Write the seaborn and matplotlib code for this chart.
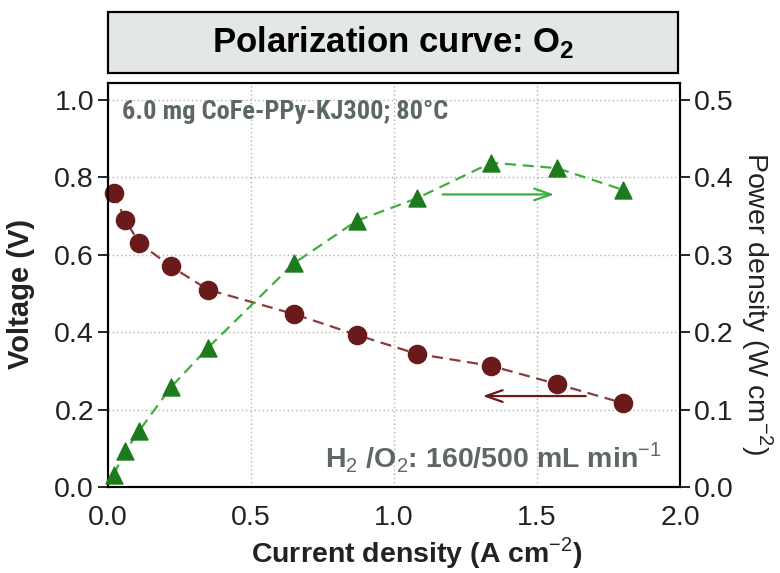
import matplotlib
matplotlib.use("Agg")
import matplotlib.pyplot as plt
import seaborn as sns
import pandas as pd
from matplotlib.patches import Rectangle
from matplotlib import font_manager as fm

current = [0.02, 0.06, 0.11, 0.22, 0.35, 0.65, 0.87, 1.08, 1.34, 1.57, 1.80]
voltage = [0.76, 0.69, 0.63, 0.57, 0.51, 0.447, 0.393, 0.344, 0.313, 0.266, 0.217]
power = [0.016, 0.046, 0.073, 0.129, 0.180, 0.289, 0.344, 0.373, 0.419, 0.412, 0.384]

x_ticks = [0.0, 0.5, 1.0, 1.5, 2.0]
v_ticks = [0.0, 0.2, 0.4, 0.6, 0.8, 1.0]
p_ticks = [0.0, 0.1, 0.2, 0.3, 0.4, 0.5]

sns.set_theme(style="white")
plt.rcParams['font.family'] = ['Liberation Sans', 'DejaVu Sans']
plt.rcParams['mathtext.fontset'] = 'custom'
plt.rcParams['mathtext.rm'] = 'Liberation Sans'
plt.rcParams['mathtext.bf'] = 'Liberation Sans:bold'

names = {f.name for f in fm.fontManager.ttflist}
narrow = None
for cand in ['Liberation Sans Narrow', 'Arial Narrow', 'Roboto Condensed',
             'Open Sans Condensed', 'Noto Sans Condensed']:
    if cand in names:
        narrow = cand
        break

df = pd.DataFrame({"current": current, "voltage": voltage, "power": power})

W, H = 780, 573
fig = plt.figure(figsize=(7.8, 5.73), dpi=100)
L, R, T, B = 108, 680, 83, 487
ax = fig.add_axes([L / W, 1 - B / H, (R - L) / W, (B - T) / H])
ax2 = ax.twinx()

maroon = "#6a1a1a"
maroon_line = "#8a3b3b"
green = "#1d7a1d"
green_line = "#3fae3f"
txt_gray = "#5e6768"
dark = "#222222"

sns.lineplot(data=df, x="current", y="voltage", ax=ax, color=maroon_line,
             linestyle=(0, (5, 3)), linewidth=1.6, zorder=3)
sns.scatterplot(data=df, x="current", y="voltage", ax=ax, color=maroon,
                marker="o", s=170, edgecolor=maroon, zorder=4, clip_on=False)
sns.lineplot(data=df, x="current", y="power", ax=ax2, color=green_line,
             linestyle=(0, (5, 3)), linewidth=1.6, zorder=3)
sns.scatterplot(data=df, x="current", y="power", ax=ax2, color=green,
                marker="^", s=150, edgecolor=green, zorder=4, clip_on=False)

ax.set_xlim(0, 2.0)
ax.set_ylim(0, 1.044)
ax2.set_ylim(0, 0.522)
ax.set_xticks(x_ticks)
ax.set_xticklabels([f"{t:.1f}" for t in x_ticks])
ax.set_yticks(v_ticks)
ax.set_yticklabels([f"{t:.1f}" for t in v_ticks])
ax2.set_yticks(p_ticks)
ax2.set_yticklabels([f"{t:.1f}" for t in p_ticks])

ax.grid(True, color="#b0b0b0", linestyle=(0, (1, 2)), linewidth=1.0)
ax2.grid(False)
ax.set_axisbelow(True)

for a in (ax, ax2):
    for s in a.spines.values():
        s.set_color("black")
        s.set_linewidth(1.5)
    a.tick_params(axis="both", direction="out", length=7, width=1.2,
                  colors="black", labelsize=20.5, labelcolor=dark)
ax.tick_params(axis="x", pad=6)
ax.tick_params(axis="y", pad=3)
ax2.tick_params(axis="y", pad=3)

ax.set_xlabel("Current density (A cm$^{-2}$)", fontsize=20.5, fontweight="bold",
              color=dark, va="center", ha="center")
ax.xaxis.set_label_coords((417 - L) / (R - L), -(553 - B) / (B - T))
ax.set_ylabel("Voltage (V)", fontsize=21, fontweight="bold", color=dark,
              va="center", ha="center")
ax.yaxis.set_label_coords(-(L - 21) / (R - L), 0.5 - (294 - (T + B) / 2) / (B - T))
ax2.set_ylabel("Power density (W cm$^{-2}$)", fontsize=20.5, fontweight="normal",
               color=dark, rotation=270, va="center", ha="center")
ax2.yaxis.set_label_coords((757 - L) / (R - L), 0.5 - (303 - (T + B) / 2) / (B - T))

ann_y = (B - 112) / (B - T)
if narrow:
    ax.text(14 / (R - L), ann_y, "6.0 mg CoFe-PPy-KJ300; 80°C", transform=ax.transAxes,
            ha="left", va="center", fontsize=19, fontweight="bold", color=txt_gray,
            family=[narrow, 'DejaVu Sans'])
else:
    ax.text(14 / (R - L), ann_y, "6.0 mg CoFe-PPy-KJ300; 80°C", transform=ax.transAxes,
            ha="left", va="center", fontsize=16.5, fontweight="bold", color=txt_gray)
ax.text((662 - L) / (R - L), 0.03, "H$_2$ /O$_2$: 160/500 mL min$^{-1}$",
        transform=ax.transAxes, ha="right", va="bottom", fontsize=20.5,
        fontweight="bold", color=txt_gray)

# arrows
ax2.annotate("", xy=(1.57, 0.378), xytext=(1.16, 0.378),
             arrowprops=dict(arrowstyle="->,head_length=1.0,head_width=0.35",
                             color=green_line, lw=1.6), zorder=5)
ax.annotate("", xy=(1.30, 0.235), xytext=(1.68, 0.235),
            arrowprops=dict(arrowstyle="->,head_length=1.0,head_width=0.35",
                            color=maroon, lw=1.6), zorder=5)

# title box
bx0, bx1, by0, by1 = 108, 678, 12, 73
box = Rectangle((bx0 / W, 1 - by1 / H), (bx1 - bx0) / W, (by1 - by0) / H,
                transform=fig.transFigure, facecolor="#e3e7e7", edgecolor="black",
                linewidth=1.6)
fig.patches.append(box)
fig.text((bx0 + bx1) / 2 / W, 1 - (by0 + by1) / 2 / H, "Polarization curve: O$_\\mathbf{2}$",
         ha="center", va="center", fontsize=25, fontweight="bold", color="black")

fig.savefig("out.png", dpi=100)
